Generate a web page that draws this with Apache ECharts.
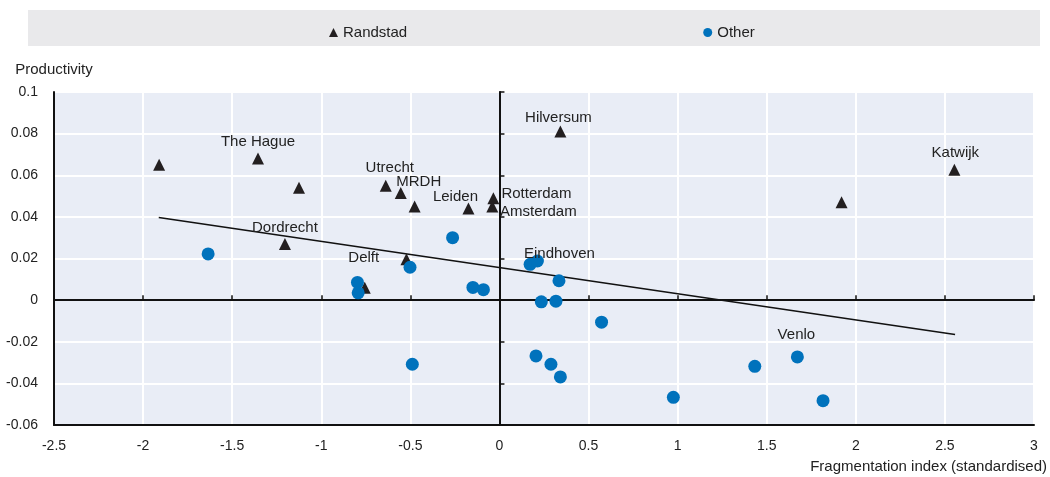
<!DOCTYPE html>
<html>
<head>
<meta charset="utf-8">
<script src="https://cdn.jsdelivr.net/npm/echarts@6/dist/echarts.min.js"></script>
<style>html,body{margin:0;padding:0;background:#fff;}#c{width:1050px;height:477px;}</style>
</head>
<body>
<div id="c"></div>
<script>
// ---- data ----
const randstadNames = ['', 'The Hague', '', 'Dordrecht', 'Utrecht', 'MRDH', '', 'Leiden', 'Rotterdam', 'Amsterdam', 'Hilversum', 'Delft', '', '', 'Katwijk'];
const randstadX = [-1.91, -1.355, -1.125, -1.204, -0.638, -0.554, -0.476, -0.174, -0.034, -0.040, 0.342, -0.756, -0.522, 1.92, 2.553];
const randstadY = [0.065, 0.068, 0.054, 0.027, 0.055, 0.0515, 0.045, 0.044, 0.049, 0.045, 0.081, 0.006, 0.0196, 0.047, 0.0626];

const otherNames = ['', '', '', '', '', '', '', '', '', 'Eindhoven', '', '', '', '', '', '', '', '', '', 'Venlo', ''];
const otherX = [-1.635, -0.797, -0.793, -0.502, -0.489, -0.263, -0.149, -0.090, 0.172, 0.213, 0.334, 0.235, 0.317, 0.573, 0.205, 0.289, 0.342, 0.976, 1.433, 1.672, 1.816];
const otherY = [0.0222, 0.0085, 0.0035, 0.0158, -0.0308, 0.030, 0.0061, 0.005, 0.0172, 0.0188, 0.0093, -0.0008, -0.0005, -0.0106, -0.0268, -0.0308, -0.0369, -0.0467, -0.0318, -0.0273, -0.0483];

const trendX = [-1.912, 2.557];
const trendY = [0.0397, -0.0165];

const xTicks = { min: -2.5, max: 3, interval: 0.5 };
const yTicks = { min: -0.06, max: 0.1, interval: 0.02 };

// ---- label placement (style, kept apart from data) ----
const labelOffsets = {
  'The Hague': [0, -17], 'Dordrecht': [0, -16], 'Utrecht': [4, -18], 'MRDH': [18, -11],
  'Leiden': [-13, -12], 'Rotterdam': [43, -4], 'Amsterdam': [46, 5], 'Hilversum': [-2, -14],
  'Delft': [-1, -30], 'Katwijk': [1, -17], 'Eindhoven': [22, -7], 'Venlo': [-1, -22]
};

function points(xs, ys, names) {
  return xs.map((x, i) => {
    const n = names[i];
    const p = { value: [x, ys[i]], name: n };
    if (n) {
      p.label = { show: true, formatter: n, position: 'inside', offset: labelOffsets[n] || [0, -16] };
    }
    return p;
  });
}

const FONT = 'Liberation Sans, Arial, sans-serif';
const chart = echarts.init(document.getElementById('c'), null, { renderer: 'canvas' });

const labelStyle = { color: '#222', fontSize: 15, fontFamily: FONT, align: 'center', verticalAlign: 'middle' };

chart.setOption({
  animation: false,
  backgroundColor: '#ffffff',
  textStyle: { fontFamily: FONT },
  graphic: [{
    type: 'rect', z: -1, silent: true,
    shape: { x: 28, y: 10, width: 1012, height: 36 },
    style: { fill: '#e9e9eb' }
  }],
  legend: {
    left: 324, top: 20, itemGap: 296, itemWidth: 9, itemHeight: 9, selectedMode: false,
    textStyle: { fontSize: 15, color: '#222', fontFamily: FONT },
    data: [{ name: 'Randstad', icon: 'triangle' }, { name: 'Other', icon: 'circle' }]
  },
  grid: {
    left: 54, right: 13, top: 92, bottom: 52,
    show: true, backgroundColor: '#e9edf6', borderColor: '#333', borderWidth: 1
  },
  xAxis: [{
    type: 'value', min: xTicks.min, max: xTicks.max, interval: xTicks.interval,
    position: 'bottom',
    axisLine: { show: true, onZero: false, lineStyle: { color: '#111', width: 2 } },
    axisTick: { show: false },
    axisLabel: { color: '#222', fontSize: 14, margin: 14, fontFamily: FONT },
    splitLine: { show: true, lineStyle: { color: '#ffffff', width: 2 } },
    name: 'Fragmentation index (standardised)', nameLocation: 'end', nameGap: 13,
    nameTextStyle: { color: '#222', fontSize: 15, fontFamily: FONT, align: 'right', verticalAlign: 'top', padding: [34, 0, 0, 0] }
  }, {
    type: 'value', min: xTicks.min, max: xTicks.max, interval: xTicks.interval,
    position: 'bottom',
    axisLine: { show: true, onZero: true, onZeroAxisIndex: 0, lineStyle: { color: '#111', width: 2 } },
    axisTick: { show: true, inside: true, length: 5, lineStyle: { color: '#111', width: 1.5 } },
    axisLabel: { show: false },
    splitLine: { show: false }
  }],
  yAxis: [{
    type: 'value', min: yTicks.min, max: yTicks.max, interval: yTicks.interval,
    position: 'left',
    axisLine: { show: true, onZero: false, lineStyle: { color: '#111', width: 2 } },
    axisTick: { show: false },
    axisLabel: { color: '#222', fontSize: 14, margin: 16, fontFamily: FONT },
    splitLine: { show: true, lineStyle: { color: '#ffffff', width: 2 } },
    name: 'Productivity', nameLocation: 'end', nameGap: 15,
    nameTextStyle: { color: '#222', fontSize: 15, fontFamily: FONT, align: 'center' }
  }, {
    type: 'value', min: yTicks.min, max: yTicks.max, interval: yTicks.interval,
    position: 'left',
    axisLine: { show: true, onZero: true, onZeroAxisIndex: 0, lineStyle: { color: '#111', width: 2 } },
    axisTick: { show: true, inside: true, length: 5, lineStyle: { color: '#111', width: 1.5 } },
    axisLabel: { show: false },
    splitLine: { show: false }
  }],
  series: [{
    name: 'Trend', type: 'line', xAxisIndex: 0, yAxisIndex: 0, z: 3,
    data: trendX.map((x, i) => [x, trendY[i]]),
    showSymbol: false, symbol: 'none', silent: true,
    lineStyle: { color: '#111', width: 1.5 }
  }, {
    name: 'Randstad', type: 'scatter', xAxisIndex: 0, yAxisIndex: 0, z: 4,
    symbol: 'triangle', symbolSize: 12,
    itemStyle: { color: '#231f20', opacity: 1 },
    label: labelStyle,
    data: points(randstadX, randstadY, randstadNames)
  }, {
    name: 'Other', type: 'scatter', xAxisIndex: 0, yAxisIndex: 0, z: 5,
    symbol: 'circle', symbolSize: 13,
    itemStyle: { color: '#0072bc', opacity: 1 },
    label: labelStyle,
    data: points(otherX, otherY, otherNames)
  }]
});
</script>
</body>
</html>
